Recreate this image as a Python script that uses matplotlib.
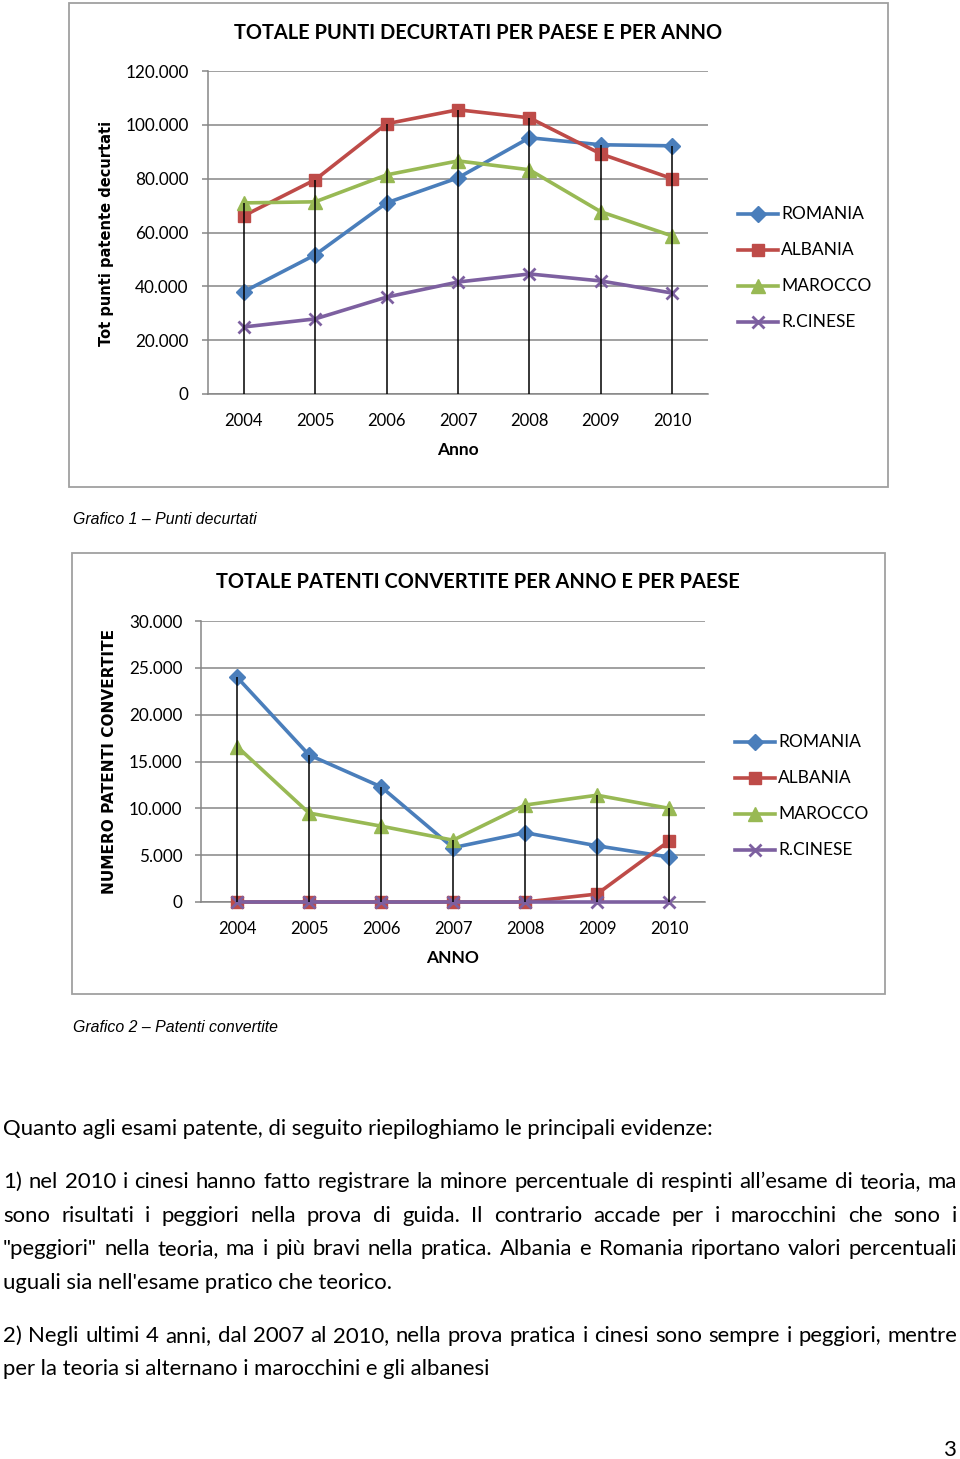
import matplotlib
matplotlib.use("Agg")
import matplotlib.pyplot as plt
from matplotlib.ticker import FuncFormatter, MultipleLocator
from matplotlib.lines import Line2D
from matplotlib.patches import Rectangle

W, H = 960, 1459

anni = ["2004", "2005", "2006", "2007", "2008", "2009", "2010"]
paesi = ["ROMANIA", "ALBANIA", "MAROCCO", "R.CINESE"]

# Grafico 1 - punti decurtati
punti_romania = [38000, 51700, 71000, 80300, 95200, 92600, 92200]
punti_albania = [66200, 79600, 100400, 105600, 102600, 89200, 80000]
punti_marocco = [71000, 71400, 81400, 86600, 83300, 67700, 58700]
punti_cinese = [24900, 27900, 36000, 41600, 44600, 42000, 37500]

# Grafico 2 - patenti convertite
conv_romania = [24000, 15700, 12300, 5800, 7400, 6000, 4800]
conv_albania = [0, 0, 0, 0, 0, 850, 6500]
conv_marocco = [16600, 9500, 8100, 6600, 10350, 11400, 10000]
conv_cinese = [0, 0, 0, 0, 0, 0, 0]

colori = ["#4A7EBB", "#BE4B48", "#98B954", "#7D60A0"]
marker = ["D", "s", "^", "x"]
msize = [8, 9, 10, 9]

FONT = "Lato"
GRID = "#868686"


def fx(x):
    return x / W


def fy(y):
    return 1 - y / H


def fmt_it(v, pos):
    return f"{int(round(v)):,}".replace(",", ".")


def box(fig, x0, y0, x1, y1):
    fig.add_artist(Rectangle((fx(x0), fy(y1)), fx(x1) - fx(x0), fy(y0) - fy(y1),
                             transform=fig.transFigure, fill=False,
                             ec="#a0a0a0", lw=1.3))


def chart(fig, plot, series, ymax, ystep, title, tpos, ylabel, ylpos, yl_size,
          xlabel, xlpos, tick_right, leg):
    l, t, r, b = plot
    ax = fig.add_axes([fx(l), fy(b), fx(r) - fx(l), fy(t) - fy(b)])
    x = list(range(len(anni)))
    for vals, c, m, s in zip(series, colori, marker, msize):
        ax.plot(x, vals, color=c, lw=2.6, marker=m, ms=s, mfc=c, mec=c,
                mew=2 if m == "x" else 1, zorder=3, clip_on=False)
    top = [max(v) for v in zip(*series)]
    ax.vlines(x, 0, top, color="black", lw=1.1, zorder=4)

    ax.set_xlim(-0.5, len(anni) - 0.5)
    ax.set_ylim(0, ymax)
    ax.yaxis.set_major_locator(MultipleLocator(ystep))
    ax.yaxis.set_major_formatter(FuncFormatter(fmt_it))
    ax.set_xticks(x)
    ax.set_xticklabels(anni)
    ax.grid(axis="y", color=GRID, lw=1.1)
    ax.set_axisbelow(True)
    for s in ["top", "right"]:
        ax.spines[s].set_visible(False)
    ax.spines["left"].set_color(GRID)
    ax.spines["bottom"].set_color(GRID)
    ax.spines["left"].set_linewidth(1.1)
    ax.spines["bottom"].set_linewidth(1.1)
    ax.tick_params(axis="x", length=0, pad=14, labelsize=12, labelcolor="black")
    ax.tick_params(axis="y", length=4.5, width=1.1, color=GRID, pad=tick_right,
                   labelsize=12.3, labelcolor="black")
    for lab in ax.get_xticklabels() + ax.get_yticklabels():
        lab.set_family(FONT)

    fig.text(fx(tpos[0]), fy(tpos[1]), title, ha="center", va="center",
             family=FONT, weight="bold", fontsize=14.4)
    fig.text(fx(ylpos[0]), fy(ylpos[1]), ylabel, ha="center", va="center",
             rotation=90, family="DejaVu Sans", weight="bold", fontsize=yl_size)
    fig.text(fx(xlpos[0]), fy(xlpos[1]), xlabel, ha="center", va="center",
             family=FONT, weight="bold", fontsize=12.5)

    lx0, lx1, tx, rows = leg
    for nome, c, m, s, ry in zip(paesi, colori, marker, msize, rows):
        fig.add_artist(Line2D([fx(lx0), fx(lx1)], [fy(ry), fy(ry)],
                              transform=fig.transFigure, color=c, lw=2.6))
        fig.add_artist(Line2D([fx((lx0 + lx1) / 2)], [fy(ry)],
                              transform=fig.transFigure, color=c, marker=m,
                              ms=s, mew=2 if m == "x" else 1, lw=0))
        fig.text(fx(tx), fy(ry), nome, ha="left", va="center",
                 family=FONT, fontsize=12.5)
    return ax


def justify(fig, rend, line, y, x0, x1, **kw):
    words = line.split(" ")
    texts = [fig.text(0, 0, w, va="baseline", ha="left", **kw) for w in words]
    widths = [tx.get_window_extent(rend).width for tx in texts]
    gap = (x1 - x0 - sum(widths)) / (len(words) - 1)
    pos = x0
    for tx, w in zip(texts, widths):
        tx.set_position((fx(pos), fy(y)))
        pos += w + gap


fig = plt.figure(figsize=(W / 100, H / 100), dpi=100)

# Grafico 1
box(fig, 69, 3, 888, 487)
chart(fig, (208, 71, 708, 394),
      [punti_romania, punti_albania, punti_marocco, punti_cinese],
      120000, 20000, "TOTALE PUNTI DECURTATI PER PAESE E PER ANNO", (478, 33),
      "Tot punti patente decurtati", (107, 233), 10.5,
      "Anno", (458, 450), 9.5,
      (738, 778, 781, [214, 250, 286, 322]))
fig.text(fx(73), fy(520), "Grafico 1 \u2013 Punti decurtati", ha="left",
         va="center", family="Liberation Sans", style="italic", fontsize=11.4)

# Grafico 2
box(fig, 72, 553, 885, 994)
chart(fig, (201, 621, 705, 902),
      [conv_romania, conv_albania, conv_marocco, conv_cinese],
      30000, 5000, "TOTALE PATENTI CONVERTITE PER ANNO E PER PAESE", (478, 582),
      "NUMERO PATENTI CONVERTITE", (110, 761), 11.1,
      "ANNO", (453, 958), 9,
      (735, 775, 778, [742, 778, 814, 850]))
fig.text(fx(73), fy(1028), "Grafico 2 \u2013 Patenti convertite", ha="left",
         va="center", family="Liberation Sans", style="italic", fontsize=11.4)

# testo (y = linea di base)
rend = fig.canvas.get_renderer()
body = dict(family=FONT, fontsize=15.9)
fig.text(fx(3), fy(1135), "Quanto agli esami patente, di seguito riepiloghiamo le principali evidenze:",
         ha="left", va="baseline", **body)
justify(fig, rend, "1) nel 2010 i cinesi hanno fatto registrare la minore percentuale di respinti all\u2019esame di teoria, ma",
        1188, 3, 957, **body)
justify(fig, rend, "sono risultati i peggiori nella prova di guida. Il contrario accade per i marocchini che sono i",
        1222, 3, 957, **body)
justify(fig, rend, "\"peggiori\" nella teoria, ma i pi\u00f9 bravi nella pratica. Albania e Romania riportano valori percentuali",
        1255, 3, 957, **body)
fig.text(fx(3), fy(1289), "uguali sia nell'esame pratico che teorico.", ha="left", va="baseline", **body)
justify(fig, rend, "2) Negli ultimi 4 anni, dal 2007 al 2010, nella prova pratica i cinesi sono sempre i peggiori, mentre",
        1342, 3, 957, **body)
fig.text(fx(3), fy(1375), "per la teoria si alternano i marocchini e gli albanesi", ha="left", va="baseline", **body)
fig.text(fx(957), fy(1456), "3", ha="right", va="baseline", **body)

fig.savefig("out.png", dpi=100, facecolor="white")
